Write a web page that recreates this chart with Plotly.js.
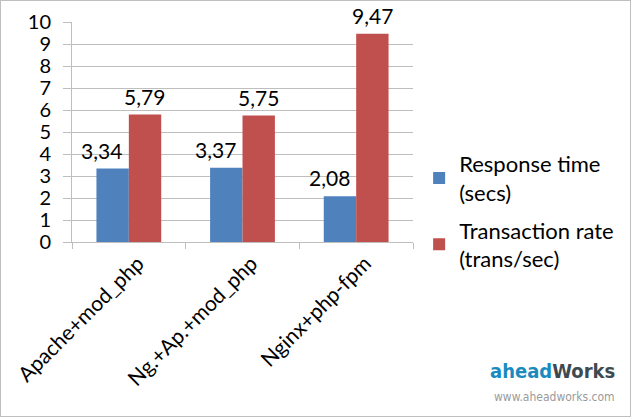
<!DOCTYPE html>
<html>
<head>
<meta charset="utf-8">
<script src="https://cdn.plot.ly/plotly-3.0.1.min.js"></script>
<style>
html,body{margin:0;padding:0;background:#fff;}
#frame{position:absolute;left:0;top:0;width:629px;height:415px;border:1px solid #bfbfbf;}
#chart{width:629px;height:415px;}
</style>
</head>
<body>
<div id="frame"><div id="chart"></div></div>
<script>
const categories = ["Apache+mod_php", "Ng.+Ap.+mod_php", "Nginx+php-fpm"];
const responseTime = [3.34, 3.37, 2.08];
const transactionRate = [5.79, 5.75, 9.47];
const seriesNames = ["Response time<br>(secs)", "Transaction rate<br>(trans/sec)"];
const yTicks = [0,1,2,3,4,5,6,7,8,9,10];

const FONT = "Lato, 'Liberation Sans', sans-serif";
const fmt = v => v.toFixed(2).replace('.', ',');

const traces = [
  {type:'bar', x:categories, y:responseTime, name:seriesNames[0], legendgroup:'a',
   marker:{color:'#4F81BD'}, hoverinfo:'none'},
  {type:'bar', x:categories, y:transactionRate, name:seriesNames[1], legendgroup:'b',
   marker:{color:'#C0504D'}, hoverinfo:'none'}
];

// data labels, anchored on each bar's value through the axes
const labelAnnotations = [];
categories.forEach((c, i) => {
  labelAnnotations.push({x:c, y:responseTime[i], xref:'x', yref:'y', text:fmt(responseTime[i]),
    showarrow:false, yanchor:'bottom', xanchor:'center', xshift:-27, yshift:4,
    font:{family:FONT, size:21, color:'#000'}});
  labelAnnotations.push({x:c, y:transactionRate[i], xref:'x', yref:'y', text:fmt(transactionRate[i]),
    showarrow:false, yanchor:'bottom', xanchor:'center', xshift:16, yshift:4,
    font:{family:FONT, size:21, color:'#000'}});
});

const layout = {
  width:629, height:415,
  margin:{l:71, r:216, t:21, b:174, pad:0},
  paper_bgcolor:'#fff', plot_bgcolor:'#fff',
  font:{family:FONT, size:20, color:'#000'},
  barmode:'group', bargap:0.43, bargroupgap:0,
  showlegend:true,
  legend:{x:1.015, y:0.45, xanchor:'left', yanchor:'top', tracegroupgap:6,
          font:{family:FONT,size:22,color:'#000'}, bgcolor:'rgba(0,0,0,0)'},
  xaxis:{type:'category', tickson:'boundaries', ticks:'outside', ticklen:6,
         tickcolor:'#bebebe', showline:true, linecolor:'#bebebe', linewidth:1,
         showgrid:false, tickangle:-45, ticklabelshift:9,
         tickfont:{family:FONT,size:21,color:'#000'}},
  yaxis:{range:[0,10], tickvals:yTicks, ticks:'outside', ticklen:8, tickcolor:'#bebebe',
         showline:true, linecolor:'#bebebe', gridcolor:'#bebebe', zeroline:false,
         ticklabelstandoff:8, tickfont:{family:FONT,size:20,color:'#000'}},
  annotations:labelAnnotations.concat([
    {xref:'paper', yref:'paper', x:1.597, y:-0.585, xanchor:'right', yanchor:'middle', showarrow:false,
     text:'<b><span style="color:#1b8bbf">ahead</span><span style="color:#3d4a50">Works</span></b>',
     font:{family:"'DejaVu Sans Condensed', 'Roboto', sans-serif", size:20}},
    {xref:'paper', yref:'paper', x:1.597, y:-0.705, xanchor:'right', yanchor:'middle', showarrow:false,
     text:'www.aheadworks.com', font:{family:"'DejaVu Sans Condensed', Roboto, sans-serif", size:12, color:'#9a9a9a'}}
  ])
};

Plotly.newPlot('chart', traces, layout, {displayModeBar:false, staticPlot:true});
</script>
</body>
</html>
